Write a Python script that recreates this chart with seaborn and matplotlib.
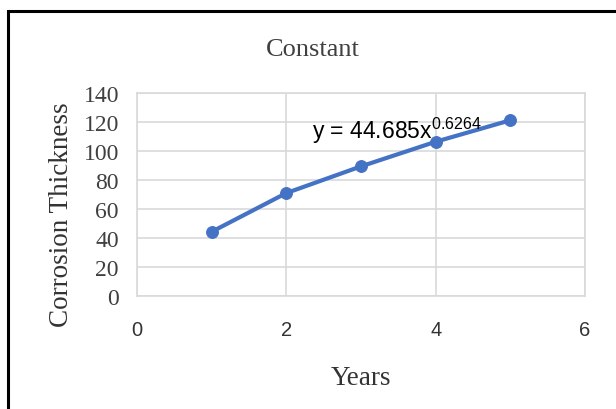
import numpy as np
import matplotlib
matplotlib.use("Agg")
import matplotlib.pyplot as plt
import seaborn as sns
from matplotlib.patches import Rectangle

sns.set_style("white")
plt.rcParams['mathtext.fontset'] = 'custom'
plt.rcParams['mathtext.rm'] = 'Liberation Sans'

# data
years = [1, 2, 3, 4, 5]
thickness = [44.3, 71.0, 89.4, 106.4, 121.2]
x_ticks = [0, 2, 4, 6]
y_ticks = [0, 20, 40, 60, 80, 100, 120, 140]
equation = r"y = 44.685x$\mathregular{^{0.6264}}$"

fig = plt.figure(figsize=(6.16, 4.10), dpi=100)
ax = fig.add_axes([0.2224, 0.2756, 0.7273, 0.4951])

sns.lineplot(x=years, y=thickness, ax=ax, color="#4472C4", linewidth=3.0,
             marker="o", markersize=8.5, markeredgecolor="#4472C4")

ax.set_xlim(0, 6)
ax.set_ylim(0, 140)
ax.set_xticks(x_ticks)
ax.set_yticks(y_ticks)
ax.set_xticklabels([str(t) for t in x_ticks], fontfamily="Liberation Sans", fontsize=14.5, color="#333333")
ax.set_yticklabels([str(t) for t in y_ticks], fontfamily="Liberation Serif", fontsize=17, color="#404040")
ax.tick_params(axis='x', length=0, pad=17)
ax.tick_params(axis='y', length=0, pad=13)
ax.grid(True, color="#D9D9D9", linewidth=1.2)
for s in ax.spines.values():
    s.set_color("#D9D9D9")
    s.set_linewidth(1.2)

# trendline equation
ax.text(2.35, 109, equation, fontfamily="Liberation Sans", fontsize=16.5, color="black")

fig.text(0.508, 0.878, "Constant", ha="center", va="center",
         fontfamily="Liberation Serif", fontsize=19, color="#404040")
ax.set_xlabel("Years", fontfamily="Liberation Serif", fontsize=19.5, color="#333333", labelpad=19)
fig.text(62 / 616, 1 - 215 / 410, "Corrosion Thickness", rotation=90, ha="center", va="center",
         fontfamily="Liberation Serif", fontsize=19.5, color="#333333")

# outer frame
fig.patches.append(Rectangle((8 / 616, -0.05), 1.1, 1.05 - 12 / 410, transform=fig.transFigure,
                             fill=False, edgecolor="black", linewidth=2.2))

plt.savefig("out.png", dpi=100)
plt.close()
